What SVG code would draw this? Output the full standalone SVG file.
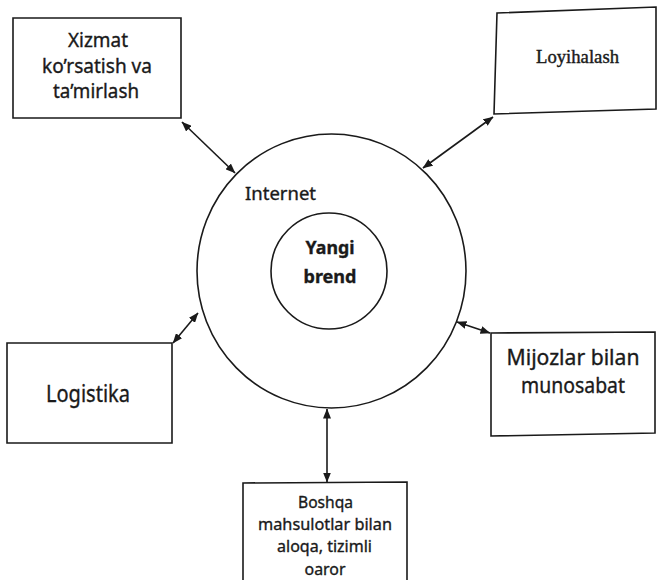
<svg xmlns="http://www.w3.org/2000/svg" width="657" height="580" viewBox="0 0 657 580">
<defs>
<marker id="ah" viewBox="0 0 10 8" refX="9.5" refY="4" markerWidth="10" markerHeight="8" markerUnits="userSpaceOnUse" orient="auto-start-reverse">
<path d="M0,0 L10,4 L0,8 Z" fill="#1a1a1a"/>
</marker>
<style>
.box{fill:#fff;stroke:#1a1a1a;stroke-width:1.6}
.ring{fill:none;stroke:#1a1a1a;stroke-width:1.6}
.t{font-family:"Noto Sans","Open Sans","Liberation Sans",sans-serif;fill:#1a1a1a;stroke:#1a1a1a;stroke-width:0.35;text-anchor:middle}
.s{font-family:"Liberation Serif","DejaVu Serif",serif;fill:#1a1a1a;stroke:#1a1a1a;stroke-width:0.4;text-anchor:middle}
.c{stroke:#1a1a1a;stroke-width:1.6;fill:none;marker-start:url(#ah);marker-end:url(#ah)}
</style>
</defs>
<rect width="657" height="580" fill="#fff"/>
<g id="internet">
<ellipse class="ring" cx="331.5" cy="271" rx="134.5" ry="137"/>
<text class="t" x="280.5" y="200" font-size="17.5" textLength="71" lengthAdjust="spacingAndGlyphs">Internet</text>
</g>
<g id="yangi-brend">
<circle class="ring" cx="329" cy="271" r="58"/>
<text class="t" x="330" y="254" font-size="18" font-weight="bold" textLength="49" lengthAdjust="spacingAndGlyphs">Yangi</text>
<text class="t" x="330" y="283" font-size="18" font-weight="bold" textLength="53" lengthAdjust="spacingAndGlyphs">brend</text>
</g>
<g id="xizmat">
<polygon class="box" points="13,18 181,18 181,118 13,118"/>
<text class="t" x="98" y="47" font-size="19" textLength="60" lengthAdjust="spacingAndGlyphs">Xizmat</text>
<text class="t" x="97" y="73" font-size="19" textLength="110" lengthAdjust="spacingAndGlyphs">ko’rsatish va</text>
<text class="t" x="96" y="98" font-size="19" textLength="86" lengthAdjust="spacingAndGlyphs">ta’mirlash</text>
</g>
<g id="loyihalash">
<polygon class="box" points="497,13 656,7 656,109 494,114"/>
<text class="s" x="577.5" y="63" font-size="18.5" textLength="83" lengthAdjust="spacingAndGlyphs">Loyihalash</text>
</g>
<g id="logistika">
<polygon class="box" points="7,343 172,343 172,443 7,443"/>
<text class="t" x="88" y="402" font-size="23" textLength="84" lengthAdjust="spacingAndGlyphs">Logistika</text>
</g>
<g id="mijozlar">
<polygon class="box" points="491,333 655,332 655,433 491,436"/>
<text class="t" x="573" y="365" font-size="21" textLength="133" lengthAdjust="spacingAndGlyphs">Mijozlar bilan</text>
<text class="t" x="573" y="393" font-size="21" textLength="104" lengthAdjust="spacingAndGlyphs">munosabat</text>
</g>
<g id="boshqa">
<polygon class="box" points="243,483 407,482 407,582 243,582"/>
<text class="t" x="325.5" y="508" font-size="16" textLength="55" lengthAdjust="spacingAndGlyphs">Boshqa</text>
<text class="t" x="325" y="530" font-size="16" textLength="134" lengthAdjust="spacingAndGlyphs">mahsulotlar bilan</text>
<text class="t" x="324.5" y="552" font-size="16" textLength="95" lengthAdjust="spacingAndGlyphs">aloqa, tizimli</text>
<text class="t" x="325" y="575" font-size="16" textLength="41" lengthAdjust="spacingAndGlyphs">oaror</text>
</g>
<g id="connectors">
<line class="c" x1="182" y1="122" x2="235" y2="173"/>
<line class="c" x1="493" y1="117" x2="423" y2="168"/>
<line class="c" x1="173" y1="343" x2="198" y2="313"/>
<line class="c" x1="490" y1="333" x2="457" y2="322"/>
<line class="c" x1="327" y1="409" x2="327" y2="482"/>
</g>
</svg>
